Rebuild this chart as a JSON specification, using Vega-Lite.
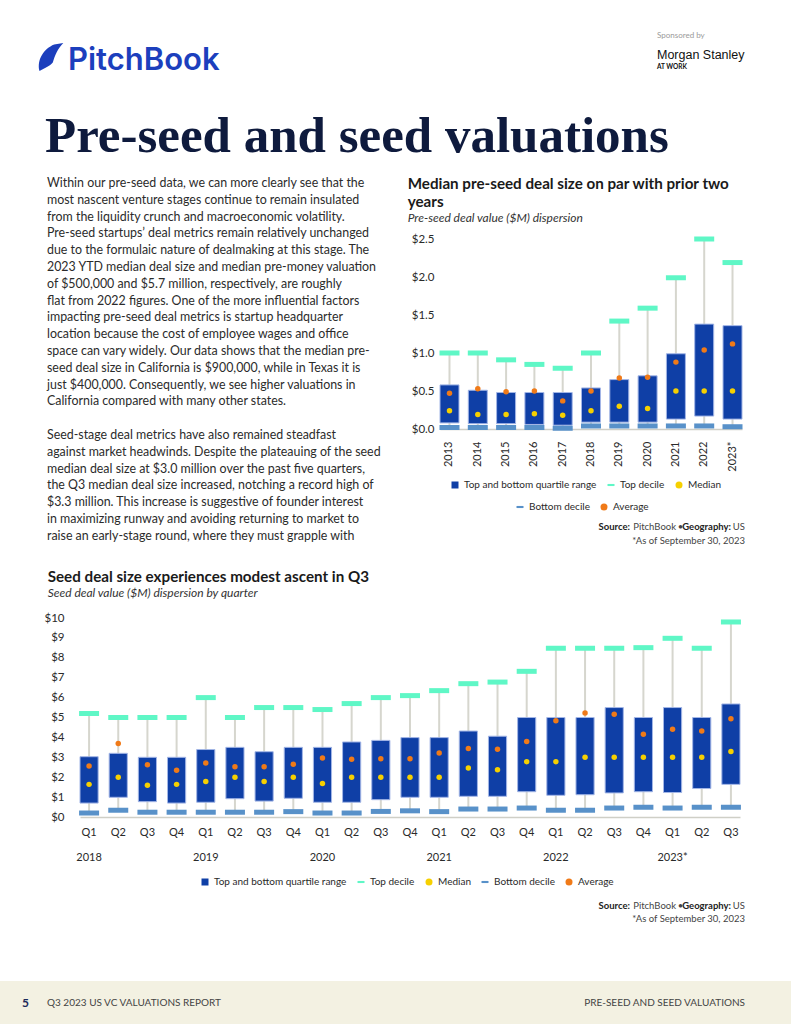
{
  "$schema": "https://vega.github.io/schema/vega-lite/v6.json",
  "padding": 0,
  "background": "#ffffff",
  "spacing": 0,
  "bounds": "flush",
  "config": {
    "view": {"stroke": null},
    "font": "Lato",
    "axis": {"labelFont": "Lato", "labelFontSize": 11, "labelColor": "#2a2a2a", "grid": false, "ticks": false, "labelOverlap": false},
    "legend": {"labelFont": "Lato", "labelFontSize": 10, "labelColor": "#2a2a2a", "symbolSize": 49, "symbolStrokeWidth": 0, "padding": 0, "columnPadding": 9, "labelOffset": 4},
    "title": {"font": "Lato", "fontSize": 15.2, "fontWeight": "bold", "color": "#1a1a1a", "subtitleFont": "Lato", "subtitleFontStyle": "italic", "subtitleFontSize": 12, "subtitleColor": "#333333", "anchor": "start", "frame": "group", "dx": -32.3, "offset": 9, "lineHeight": 18, "subtitlePadding": 3}
  },
  "datasets": {
    "preseed": [
      {"year": "2013", "tdec": 1.0, "q3": 0.58, "avg": 0.47, "med": 0.24, "q1": 0.08, "bdec": 0.02},
      {"year": "2014", "tdec": 1.0, "q3": 0.51, "avg": 0.53, "med": 0.19, "q1": 0.07, "bdec": 0.02},
      {"year": "2015", "tdec": 0.91, "q3": 0.48, "avg": 0.49, "med": 0.19, "q1": 0.07, "bdec": 0.02},
      {"year": "2016", "tdec": 0.85, "q3": 0.48, "avg": 0.50, "med": 0.20, "q1": 0.06, "bdec": 0.02},
      {"year": "2017", "tdec": 0.80, "q3": 0.48, "avg": 0.37, "med": 0.18, "q1": 0.05, "bdec": 0.01},
      {"year": "2018", "tdec": 1.0, "q3": 0.54, "avg": 0.50, "med": 0.24, "q1": 0.09, "bdec": 0.04},
      {"year": "2019", "tdec": 1.42, "q3": 0.65, "avg": 0.67, "med": 0.30, "q1": 0.09, "bdec": 0.04},
      {"year": "2020", "tdec": 1.59, "q3": 0.70, "avg": 0.68, "med": 0.27, "q1": 0.09, "bdec": 0.04},
      {"year": "2021", "tdec": 1.99, "q3": 0.99, "avg": 0.88, "med": 0.50, "q1": 0.13, "bdec": 0.04},
      {"year": "2022", "tdec": 2.50, "q3": 1.38, "avg": 1.04, "med": 0.50, "q1": 0.17, "bdec": 0.04},
      {"year": "2023*", "tdec": 2.19, "q3": 1.36, "avg": 1.12, "med": 0.50, "q1": 0.13, "bdec": 0.03}
    ],
    "seed": [
      {"period": "2018 Q1", "tdec": 5.2, "q3": 3.03, "avg": 2.56, "med": 1.64, "q1": 0.70, "bdec": 0.20},
      {"period": "2018 Q2", "tdec": 5.0, "q3": 3.2, "avg": 3.69, "med": 2.0, "q1": 0.99, "bdec": 0.34},
      {"period": "2018 Q3", "tdec": 5.0, "q3": 3.0, "avg": 2.63, "med": 1.59, "q1": 0.77, "bdec": 0.24},
      {"period": "2018 Q4", "tdec": 5.0, "q3": 3.0, "avg": 2.35, "med": 1.64, "q1": 0.70, "bdec": 0.24},
      {"period": "2019 Q1", "tdec": 6.0, "q3": 3.39, "avg": 2.71, "med": 1.78, "q1": 0.74, "bdec": 0.24},
      {"period": "2019 Q2", "tdec": 5.0, "q3": 3.5, "avg": 2.53, "med": 2.0, "q1": 0.92, "bdec": 0.24},
      {"period": "2019 Q3", "tdec": 5.5, "q3": 3.28, "avg": 2.53, "med": 1.78, "q1": 0.80, "bdec": 0.24},
      {"period": "2019 Q4", "tdec": 5.5, "q3": 3.5, "avg": 2.65, "med": 2.0, "q1": 0.94, "bdec": 0.27},
      {"period": "2020 Q1", "tdec": 5.4, "q3": 3.5, "avg": 2.97, "med": 1.68, "q1": 0.74, "bdec": 0.20},
      {"period": "2020 Q2", "tdec": 5.7, "q3": 3.77, "avg": 2.9, "med": 2.0, "q1": 0.74, "bdec": 0.20},
      {"period": "2020 Q3", "tdec": 6.0, "q3": 3.85, "avg": 2.93, "med": 2.0, "q1": 0.87, "bdec": 0.28},
      {"period": "2020 Q4", "tdec": 6.1, "q3": 3.99, "avg": 2.93, "med": 2.0, "q1": 0.99, "bdec": 0.31},
      {"period": "2021 Q1", "tdec": 6.35, "q3": 3.99, "avg": 3.22, "med": 2.0, "q1": 0.99, "bdec": 0.27},
      {"period": "2021 Q2", "tdec": 6.7, "q3": 4.32, "avg": 3.44, "med": 2.46, "q1": 1.04, "bdec": 0.40},
      {"period": "2021 Q3", "tdec": 6.78, "q3": 4.06, "avg": 3.40, "med": 2.38, "q1": 1.04, "bdec": 0.40},
      {"period": "2021 Q4", "tdec": 7.32, "q3": 5.0, "avg": 3.79, "med": 2.78, "q1": 1.27, "bdec": 0.45},
      {"period": "2022 Q1", "tdec": 8.48, "q3": 5.0, "avg": 4.84, "med": 2.78, "q1": 1.09, "bdec": 0.34},
      {"period": "2022 Q2", "tdec": 8.48, "q3": 5.0, "avg": 5.23, "med": 3.0, "q1": 1.12, "bdec": 0.34},
      {"period": "2022 Q3", "tdec": 8.48, "q3": 5.5, "avg": 5.16, "med": 3.0, "q1": 1.21, "bdec": 0.45},
      {"period": "2022 Q4", "tdec": 8.51, "q3": 5.0, "avg": 4.16, "med": 3.0, "q1": 1.27, "bdec": 0.49},
      {"period": "2023 Q1", "tdec": 8.98, "q3": 5.5, "avg": 4.41, "med": 3.0, "q1": 1.23, "bdec": 0.45},
      {"period": "2023 Q2", "tdec": 8.48, "q3": 5.0, "avg": 4.32, "med": 3.0, "q1": 1.43, "bdec": 0.49},
      {"period": "2023 Q3", "tdec": 9.8, "q3": 5.68, "avg": 4.94, "med": 3.29, "q1": 1.64, "bdec": 0.49}
    ]
  },
  "vconcat": [
    {
      "width": 791,
      "height": 239,
      "data": {"values": [{}]},
      "layer": [
        {"mark": {"type": "point", "shape": "M-0.75,1 C-0.95,0.2 -0.45,-0.6 0.3,-0.9 L0.95,-1 C0.55,-0.6 0.35,-0.1 0.2,0.4 C0,0.65 -0.4,0.8 -0.75,1 Z", "filled": true, "color": "#1c3fbd", "opacity": 1, "size": 784, "x": 50, "y": 57}, "encoding": {}},
        {"mark": {"type": "text", "text": "PitchBook", "x": 68, "y": 70, "align": "left", "baseline": "alphabetic", "font": "Inter", "fontSize": 31, "fontWeight": 600, "color": "#1c3fbd"}, "encoding": {}},
        {"mark": {"type": "text", "text": "Sponsored by", "x": 657, "y": 38, "align": "left", "baseline": "alphabetic", "font": "Lato", "fontSize": 8, "color": "#9a9a9a"}, "encoding": {}},
        {"mark": {"type": "text", "text": "Morgan Stanley", "x": 657, "y": 59, "align": "left", "baseline": "alphabetic", "font": "Liberation Sans", "fontSize": 12.5, "color": "#111111"}, "encoding": {}},
        {"mark": {"type": "text", "text": "AT WORK", "x": 657, "y": 69, "align": "left", "baseline": "alphabetic", "font": "Lato", "fontSize": 6.5, "fontWeight": "bold", "color": "#111111"}, "encoding": {}},
        {"mark": {"type": "text", "text": "Pre-seed and seed valuations", "x": 45, "y": 152, "align": "left", "baseline": "alphabetic", "font": "Liberation Serif", "fontSize": 51, "fontWeight": "bold", "color": "#0e1a3d"}, "encoding": {}},
        {"mark": {"type": "text", "x": 47, "y": 187, "align": "left", "baseline": "alphabetic", "font": "Lato", "fontSize": 12.4, "lineHeight": 16.8, "color": "#2b2b2b",
          "text": [
            "Within our pre-seed data, we can more clearly see that the",
            "most nascent venture stages continue to remain insulated",
            "from the liquidity crunch and macroeconomic volatility.",
            "Pre-seed startups’ deal metrics remain relatively unchanged",
            "due to the formulaic nature of dealmaking at this stage. The",
            "2023 YTD median deal size and median pre-money valuation",
            "of $500,000 and $5.7 million, respectively, are roughly",
            "flat from 2022 figures. One of the more influential factors",
            "impacting pre-seed deal metrics is startup headquarter",
            "location because the cost of employee wages and office",
            "space can vary widely. Our data shows that the median pre-",
            "seed deal size in California is $900,000, while in Texas it is",
            "just $400,000. Consequently, we see higher valuations in",
            "California compared with many other states."
          ]}, "encoding": {}},
        {"mark": {"type": "text", "x": 47, "y": 439, "align": "left", "baseline": "alphabetic", "font": "Lato", "fontSize": 12.4, "lineHeight": 16.8, "color": "#2b2b2b",
          "text": [
            "Seed-stage deal metrics have also remained steadfast",
            "against market headwinds. Despite the plateauing of the seed",
            "median deal size at $3.0 million over the past five quarters,",
            "the Q3 median deal size increased, notching a record high of",
            "$3.3 million. This increase is suggestive of founder interest",
            "in maximizing runway and avoiding returning to market to",
            "raise an early-stage round, where they must grapple with"
          ]}, "encoding": {}}
      ]
    },
    {
      "hconcat": [
        {"width": 439.3, "height": 190, "data": {"values": [{}]}, "mark": {"type": "text", "text": ""}, "encoding": {}},
        {
          "width": 302,
          "height": 190,
          "title": {"text": ["Median pre-seed deal size on par with prior two", "years"], "subtitle": "Pre-seed deal value ($M) dispersion"},
          "data": {"name": "preseed"},
          "encoding": {
            "x": {"field": "year", "type": "nominal", "sort": null,
              "scale": {"domain": ["2013", "2014", "2015", "2016", "2017", "2018", "2019", "2020", "2021", "2022", "2023*"], "paddingInner": 0.329, "paddingOuter": 0},
              "axis": {"title": null, "labelAngle": -90, "labelPadding": 12, "domainColor": "#cfcfc7", "domainWidth": 1.5}}
          },
          "layer": [
            {"mark": {"type": "rule", "color": "#d6d6ce", "strokeWidth": 2}, "encoding": {"y": {"field": "bdec", "type": "quantitative", "title": null, "scale": {"domain": [0, 2.5]}, "axis": {"values": [0, 0.5, 1, 1.5, 2, 2.5], "format": "$.1f", "domain": false, "labelPadding": 6, "labelOverlap": false, "labelFontSize": 11.5}}, "y2": {"field": "tdec"}}},
            {"mark": {"type": "bar", "color": "#0f3fa6", "stroke": "#a3b6e6", "strokeWidth": 1}, "encoding": {"y": {"field": "q3", "type": "quantitative", "title": null, "scale": {"domain": [0, 2.5]}, "axis": {"values": [0, 0.5, 1, 1.5, 2, 2.5], "format": "$.1f", "domain": false, "labelPadding": 6, "labelOverlap": false, "labelFontSize": 11.5}}, "y2": {"field": "q1"}}},
            {"mark": {"type": "tick", "color": "#5ff7c6", "thickness": 5, "size": 20, "opacity": 1}, "encoding": {"y": {"field": "tdec", "type": "quantitative", "title": null, "scale": {"domain": [0, 2.5]}, "axis": {"values": [0, 0.5, 1, 1.5, 2, 2.5], "format": "$.1f", "domain": false, "labelPadding": 6, "labelOverlap": false, "labelFontSize": 11.5}}}},
            {"mark": {"type": "tick", "color": "#5891c9", "thickness": 5, "size": 20, "opacity": 1}, "encoding": {"y": {"field": "bdec", "type": "quantitative", "title": null, "scale": {"domain": [0, 2.5]}, "axis": {"values": [0, 0.5, 1, 1.5, 2, 2.5], "format": "$.1f", "domain": false, "labelPadding": 6, "labelOverlap": false, "labelFontSize": 11.5}}}},
            {"mark": {"type": "circle", "color": "#f6d000", "size": 30, "opacity": 1}, "encoding": {"y": {"field": "med", "type": "quantitative", "title": null, "scale": {"domain": [0, 2.5]}, "axis": {"values": [0, 0.5, 1, 1.5, 2, 2.5], "format": "$.1f", "domain": false, "labelPadding": 6, "labelOverlap": false, "labelFontSize": 11.5}}}},
            {"mark": {"type": "circle", "color": "#f07a18", "size": 30, "opacity": 1}, "encoding": {"y": {"field": "avg", "type": "quantitative", "title": null, "scale": {"domain": [0, 2.5]}, "axis": {"values": [0, 0.5, 1, 1.5, 2, 2.5], "format": "$.1f", "domain": false, "labelPadding": 6, "labelOverlap": false, "labelFontSize": 11.5}}}},
            {
              "data": {"values": [{"series": "Top and bottom quartile range"}, {"series": "Top decile"}, {"series": "Median"}]},
              "mark": {"type": "point", "filled": true, "opacity": 1},
              "encoding": {
                "y": {"field": "none", "type": "quantitative", "title": null, "scale": {"domain": [0, 2.5]}, "axis": {"values": [0, 0.5, 1, 1.5, 2, 2.5], "format": "$.1f", "domain": false, "labelPadding": 6, "labelOverlap": false, "labelFontSize": 11.5}},
                "color": {"field": "series", "type": "nominal", "sort": null, "scale": {"domain": ["Top and bottom quartile range", "Top decile", "Median"], "range": ["#0f3fa6", "#5ff7c6", "#f6d000"]}, "legend": {"orient": "none", "legendX": 10, "legendY": 241, "direction": "horizontal", "title": null}},
                "shape": {"field": "series", "type": "nominal", "sort": null, "scale": {"domain": ["Top and bottom quartile range", "Top decile", "Median"], "range": ["square", "M-1,-0.3H1V0.3H-1Z", "circle"]}, "legend": {"orient": "none", "legendX": 10, "legendY": 241, "direction": "horizontal", "title": null}}
              }
            },
            {
              "data": {"values": [{"series": "Bottom decile"}, {"series": "Average"}]},
              "mark": {"type": "point", "filled": true, "opacity": 1},
              "encoding": {
                "y": {"field": "none", "type": "quantitative", "title": null, "scale": {"domain": [0, 2.5]}, "axis": {"values": [0, 0.5, 1, 1.5, 2, 2.5], "format": "$.1f", "domain": false, "labelPadding": 6, "labelOverlap": false, "labelFontSize": 11.5}},
                "color": {"field": "series", "type": "nominal", "sort": null, "scale": {"domain": ["Bottom decile", "Average"], "range": ["#5891c9", "#f07a18"]}, "legend": {"orient": "none", "legendX": 75, "legendY": 263, "direction": "horizontal", "title": null}},
                "shape": {"field": "series", "type": "nominal", "sort": null, "scale": {"domain": ["Bottom decile", "Average"], "range": ["M-1,-0.3H1V0.3H-1Z", "circle"]}, "legend": {"orient": "none", "legendX": 75, "legendY": 263, "direction": "horizontal", "title": null}}
              }
            }
          ],
          "resolve": {"scale": {"color": "independent", "shape": "independent"}}
        }
      ],
      "spacing": 0,
      "bounds": "flush"
    },
    {
      "width": 791,
      "height": 378.7,
      "data": {"values": [{}]},
      "layer": [
        {"mark": {"type": "text", "text": "Source:", "x": 630, "y": 288, "align": "right", "baseline": "middle", "font": "Lato", "fontSize": 9.5, "fontWeight": "bold", "color": "#222222"}, "encoding": {}},
        {"mark": {"type": "text", "text": "PitchBook", "x": 676, "y": 288, "align": "right", "baseline": "middle", "font": "Lato", "fontSize": 9.5, "color": "#444444"}, "encoding": {}},
        {"mark": {"type": "text", "text": "•", "x": 680.5, "y": 288, "align": "center", "baseline": "middle", "font": "Lato", "fontSize": 9.5, "color": "#444444"}, "encoding": {}},
        {"mark": {"type": "text", "text": "Geography:", "x": 731, "y": 288, "align": "right", "baseline": "middle", "font": "Lato", "fontSize": 9.5, "fontWeight": "bold", "color": "#222222"}, "encoding": {}},
        {"mark": {"type": "text", "text": "US", "x": 745, "y": 288, "align": "right", "baseline": "middle", "font": "Lato", "fontSize": 9.5, "color": "#444444"}, "encoding": {}},
        {"mark": {"type": "text", "text": "*As of September 30, 2023", "x": 745, "y": 302, "align": "right", "baseline": "middle", "font": "Lato", "fontSize": 9.5, "color": "#444444"}, "encoding": {}}
      ]
    },
    {
      "hconcat": [
        {"width": 79.3, "height": 199, "data": {"values": [{}]}, "mark": {"type": "text", "text": ""}, "encoding": {}},
        {
          "width": 660,
          "height": 199,
          "title": {"text": "Seed deal size experiences modest ascent in Q3", "subtitle": "Seed deal value ($M) dispersion by quarter", "offset": 13},
          "data": {"name": "seed"},
          "encoding": {
            "x": {"field": "period", "type": "nominal", "sort": null,
              "scale": {"domain": ["2018 Q1", "2018 Q2", "2018 Q3", "2018 Q4", "2019 Q1", "2019 Q2", "2019 Q3", "2019 Q4", "2020 Q1", "2020 Q2", "2020 Q3", "2020 Q4", "2021 Q1", "2021 Q2", "2021 Q3", "2021 Q4", "2022 Q1", "2022 Q2", "2022 Q3", "2022 Q4", "2023 Q1", "2023 Q2", "2023 Q3"], "paddingInner": 0.378, "paddingOuter": 0},
              "axis": {"title": null, "labelAngle": 0, "labelPadding": 9, "labelLineHeight": 25, "domainColor": "#cfcfc7", "domainWidth": 1.5,
                "labelExpr": "slice(datum.value, 5) == 'Q1' ? [slice(datum.value, 5), slice(datum.value, 0, 4) + (slice(datum.value, 0, 4) == '2023' ? '*' : '')] : slice(datum.value, 5)"}}
          },
          "layer": [
            {"mark": {"type": "rule", "color": "#d6d6ce", "strokeWidth": 2}, "encoding": {"y": {"field": "bdec", "type": "quantitative", "title": null, "scale": {"domain": [0, 10]}, "axis": {"values": [0, 1, 2, 3, 4, 5, 6, 7, 8, 9, 10], "format": "$d", "domain": false, "labelPadding": 16, "labelOverlap": false, "labelFontSize": 11.5}}, "y2": {"field": "tdec"}}},
            {"mark": {"type": "bar", "color": "#0f3fa6", "stroke": "#a3b6e6", "strokeWidth": 1}, "encoding": {"y": {"field": "q3", "type": "quantitative", "title": null, "scale": {"domain": [0, 10]}, "axis": {"values": [0, 1, 2, 3, 4, 5, 6, 7, 8, 9, 10], "format": "$d", "domain": false, "labelPadding": 16, "labelOverlap": false, "labelFontSize": 11.5}}, "y2": {"field": "q1"}}},
            {"mark": {"type": "tick", "color": "#5ff7c6", "thickness": 5, "size": 20, "opacity": 1}, "encoding": {"y": {"field": "tdec", "type": "quantitative", "title": null, "scale": {"domain": [0, 10]}, "axis": {"values": [0, 1, 2, 3, 4, 5, 6, 7, 8, 9, 10], "format": "$d", "domain": false, "labelPadding": 16, "labelOverlap": false, "labelFontSize": 11.5}}}},
            {"mark": {"type": "tick", "color": "#5891c9", "thickness": 5, "size": 20, "opacity": 1}, "encoding": {"y": {"field": "bdec", "type": "quantitative", "title": null, "scale": {"domain": [0, 10]}, "axis": {"values": [0, 1, 2, 3, 4, 5, 6, 7, 8, 9, 10], "format": "$d", "domain": false, "labelPadding": 16, "labelOverlap": false, "labelFontSize": 11.5}}}},
            {"mark": {"type": "circle", "color": "#f6d000", "size": 30, "opacity": 1}, "encoding": {"y": {"field": "med", "type": "quantitative", "title": null, "scale": {"domain": [0, 10]}, "axis": {"values": [0, 1, 2, 3, 4, 5, 6, 7, 8, 9, 10], "format": "$d", "domain": false, "labelPadding": 16, "labelOverlap": false, "labelFontSize": 11.5}}}},
            {"mark": {"type": "circle", "color": "#f07a18", "size": 30, "opacity": 1}, "encoding": {"y": {"field": "avg", "type": "quantitative", "title": null, "scale": {"domain": [0, 10]}, "axis": {"values": [0, 1, 2, 3, 4, 5, 6, 7, 8, 9, 10], "format": "$d", "domain": false, "labelPadding": 16, "labelOverlap": false, "labelFontSize": 11.5}}}},
            {
              "data": {"values": [{"series": "Top and bottom quartile range"}, {"series": "Top decile"}, {"series": "Median"}, {"series": "Bottom decile"}, {"series": "Average"}]},
              "mark": {"type": "point", "filled": true, "opacity": 1},
              "encoding": {
                "y": {"field": "none", "type": "quantitative", "title": null, "scale": {"domain": [0, 10]}, "axis": {"values": [0, 1, 2, 3, 4, 5, 6, 7, 8, 9, 10], "format": "$d", "domain": false, "labelPadding": 16, "labelOverlap": false, "labelFontSize": 11.5}},
                "color": {"field": "series", "type": "nominal", "sort": null, "scale": {"domain": ["Top and bottom quartile range", "Top decile", "Median", "Bottom decile", "Average"], "range": ["#0f3fa6", "#5ff7c6", "#f6d000", "#5891c9", "#f07a18"]}, "legend": {"orient": "none", "legendX": 120, "legendY": 259, "direction": "horizontal", "title": null}},
                "shape": {"field": "series", "type": "nominal", "sort": null, "scale": {"domain": ["Top and bottom quartile range", "Top decile", "Median", "Bottom decile", "Average"], "range": ["square", "M-1,-0.3H1V0.3H-1Z", "circle", "M-1,-0.3H1V0.3H-1Z", "circle"]}, "legend": {"orient": "none", "legendX": 120, "legendY": 259, "direction": "horizontal", "title": null}}
              }
            }
          ],
          "resolve": {"scale": {"color": "independent", "shape": "independent"}}
        }
      ],
      "spacing": 0,
      "bounds": "flush"
    },
    {
      "width": 791,
      "height": 362.3,
      "data": {"values": [{}]},
      "layer": [
        {"mark": {"type": "text", "text": "Source:", "x": 630, "y": 287.5, "align": "right", "baseline": "middle", "font": "Lato", "fontSize": 9.5, "fontWeight": "bold", "color": "#222222"}, "encoding": {}},
        {"mark": {"type": "text", "text": "PitchBook", "x": 676, "y": 287.5, "align": "right", "baseline": "middle", "font": "Lato", "fontSize": 9.5, "color": "#444444"}, "encoding": {}},
        {"mark": {"type": "text", "text": "•", "x": 680.5, "y": 287.5, "align": "center", "baseline": "middle", "font": "Lato", "fontSize": 9.5, "color": "#444444"}, "encoding": {}},
        {"mark": {"type": "text", "text": "Geography:", "x": 731, "y": 287.5, "align": "right", "baseline": "middle", "font": "Lato", "fontSize": 9.5, "fontWeight": "bold", "color": "#222222"}, "encoding": {}},
        {"mark": {"type": "text", "text": "US", "x": 745, "y": 287.5, "align": "right", "baseline": "middle", "font": "Lato", "fontSize": 9.5, "color": "#444444"}, "encoding": {}},
        {"mark": {"type": "text", "text": "*As of September 30, 2023", "x": 745, "y": 300.5, "align": "right", "baseline": "middle", "font": "Lato", "fontSize": 9.5, "color": "#444444"}, "encoding": {}}
      ]
    },
    {
      "width": 791,
      "height": 44,
      "view": {"fill": "#f3f1e2", "stroke": null},
      "data": {"values": [{}]},
      "layer": [
        {"mark": {"type": "text", "text": "5", "x": 22, "y": 22, "align": "left", "baseline": "middle", "font": "Lato", "fontSize": 12, "fontWeight": "bold", "color": "#1c2a5a"}, "encoding": {}},
        {"mark": {"type": "text", "text": "Q3 2023 US VC VALUATIONS REPORT", "x": 47, "y": 22, "align": "left", "baseline": "middle", "font": "Lato", "fontSize": 10, "color": "#444444"}, "encoding": {}},
        {"mark": {"type": "text", "text": "PRE-SEED AND SEED VALUATIONS", "x": 745, "y": 22, "align": "right", "baseline": "middle", "font": "Lato", "fontSize": 10, "color": "#444444"}, "encoding": {}}
      ]
    }
  ]
}
